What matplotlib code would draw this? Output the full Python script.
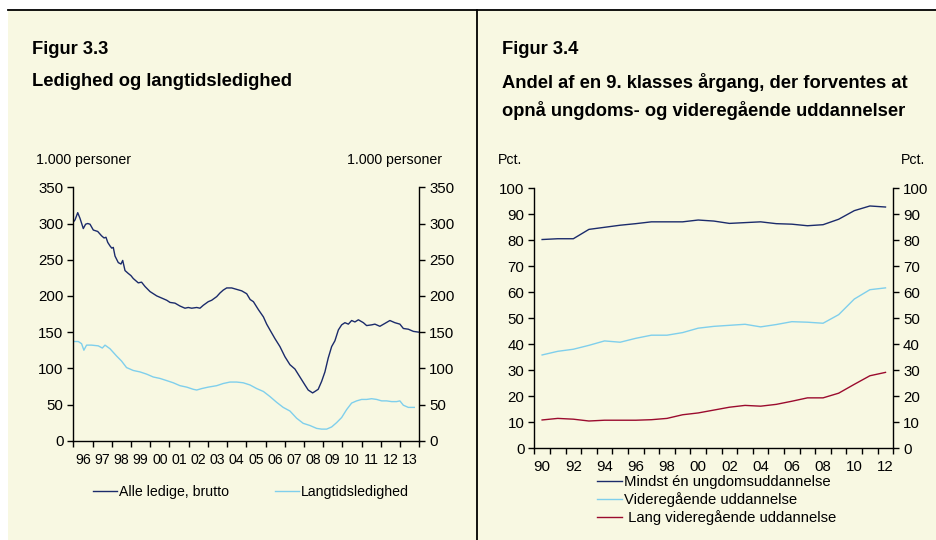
import numpy as np
import matplotlib
matplotlib.use("Agg")
import matplotlib.pyplot as plt
from matplotlib.patches import Rectangle
from matplotlib.lines import Line2D

plt.rcParams['font.family'] = ['Liberation Sans', 'DejaVu Sans']

# --- Figur 3.3 data (1.000 personer) ---
alle_t = [1996.00, 1996.09, 1996.23, 1996.35, 1996.52, 1996.64, 1996.75, 1996.87,
          1997.04, 1997.27, 1997.47, 1997.60, 1997.70, 1997.79, 1997.91, 1998.00,
          1998.08, 1998.17, 1998.34, 1998.48, 1998.57, 1998.69, 1998.86, 1999.00,
          1999.12, 1999.38, 1999.55, 1999.73, 1999.99, 2000.34, 2000.60, 2000.86,
          2001.03, 2001.29, 2001.55, 2001.81, 2001.98, 2002.16, 2002.42, 2002.59,
          2002.76, 2003.02, 2003.20, 2003.46, 2003.63, 2003.80, 2003.98, 2004.24,
          2004.50, 2004.76, 2005.02, 2005.20, 2005.37, 2005.63, 2005.89, 2006.06,
          2006.23, 2006.49, 2006.75, 2007.01, 2007.27, 2007.53, 2007.79, 2008.05,
          2008.22, 2008.45, 2008.57, 2008.74, 2008.92, 2009.09, 2009.26, 2009.44,
          2009.61, 2009.79, 2009.96, 2010.13, 2010.31, 2010.48, 2010.65, 2010.83,
          2011.09, 2011.26, 2011.52, 2011.69, 2011.95, 2012.21, 2012.47, 2012.73,
          2012.99, 2013.17, 2013.43, 2013.69, 2013.95]
alle = [302, 305, 315, 307, 293, 299, 300, 299,
        291, 289, 283, 280, 281, 274, 269, 266,
        267, 255, 246, 244, 249, 235, 231, 228,
        224, 218, 219, 213, 206, 200, 197, 194,
        191, 190, 186, 183, 184, 183, 184, 183,
        187, 192, 194, 199, 204, 208, 211, 211,
        209, 207, 203, 195, 192, 181, 171, 161,
        153, 141, 130, 116, 105, 99, 88, 77,
        70, 66, 68, 71, 82, 95, 114, 130,
        138, 153, 160, 163, 161, 166, 164, 167,
        163, 159, 160, 161, 158, 162, 166, 163,
        161, 155, 154, 151, 150]

lang_t = [1996.00, 1996.26, 1996.43, 1996.55, 1996.69, 1996.95, 1997.30, 1997.51,
          1997.65, 1997.91, 1998.25, 1998.51, 1998.77, 1999.12, 1999.47, 1999.81,
          2000.16, 2000.51, 2000.86, 2001.20, 2001.55, 2001.90, 2002.24, 2002.42,
          2002.68, 2003.02, 2003.46, 2003.80, 2004.15, 2004.50, 2004.84, 2005.19,
          2005.54, 2005.89, 2006.23, 2006.58, 2006.92, 2007.27, 2007.62, 2007.96,
          2008.31, 2008.66, 2008.92, 2009.18, 2009.44, 2009.70, 2009.96, 2010.22,
          2010.48, 2010.74, 2011.00, 2011.26, 2011.52, 2011.78, 2012.04, 2012.30,
          2012.56, 2012.82, 2012.99, 2013.17, 2013.43, 2013.74]
lang = [137, 137, 134, 125, 132, 132, 131, 128,
        132, 127, 117, 110, 101, 97, 95, 92,
        88, 86, 83, 80, 76, 74, 71, 70,
        72, 74, 76, 79, 81, 81, 80, 77,
        72, 68, 61, 53, 46, 41, 31, 24,
        21, 17, 16, 16, 19, 25, 32, 43,
        52, 55, 57, 57, 58, 57, 55, 55,
        54, 54, 55, 49, 46, 46]

yr_labels_l = ['96', '97', '98', '99', '00', '01', '02', '03', '04', '05',
               '06', '07', '08', '09', '10', '11', '12', '13']

# --- Figur 3.4 data (pct.) ---
years_r = list(range(1990, 2013))
mindst = [80.3, 80.6, 80.6, 84.2, 85.0, 85.8, 86.4, 87.1, 87.1, 87.1, 87.8, 87.4,
          86.5, 86.8, 87.1, 86.4, 86.2, 85.6, 86.0, 88.1, 91.4, 93.2, 92.8]
videre = [35.9, 37.3, 38.1, 39.6, 41.3, 40.8, 42.3, 43.5, 43.5, 44.5, 46.2, 46.9,
          47.3, 47.7, 46.7, 47.6, 48.7, 48.5, 48.1, 51.4, 57.4, 61.0, 61.7]
lang_vid = [10.9, 11.5, 11.2, 10.5, 10.8, 10.8, 10.8, 11.0, 11.5, 12.9, 13.6, 14.7,
            15.8, 16.5, 16.2, 16.9, 18.1, 19.4, 19.4, 21.2, 24.6, 27.9, 29.2]

navy = '#1b2b6b'
light = '#7fcfec'
red = '#9b0b2e'
cream = '#f8f8e2'

W, H = 936, 540
fig = plt.figure(figsize=(W / 100, H / 100), dpi=100, facecolor='white')


def fx(x):
    return x / W


def fy(y):
    return 1 - y / H


fig.patches.append(Rectangle((fx(8), 0), 1 - fx(8), fy(10), transform=fig.transFigure,
                             facecolor=cream, edgecolor='none', zorder=-5))
fig.lines.append(Line2D([fx(8), 1], [fy(10), fy(10)], transform=fig.transFigure,
                        color='black', lw=1.3))
fig.lines.append(Line2D([fx(477.5), fx(477.5)], [0, fy(10)], transform=fig.transFigure,
                        color='black', lw=1.3))

tfs = 13.2
fs = 10.2


def style_axes(ax, size):
    ax.set_facecolor('none')
    ax.spines['top'].set_visible(False)
    for s in ['left', 'right', 'bottom']:
        ax.spines[s].set_linewidth(1.0)
    ax.yaxis.set_ticks_position('both')
    ax.tick_params(axis='y', which='major', direction='out', length=4, width=1,
                   labelright=True, labelsize=size, pad=3)
    ax.tick_params(axis='x', which='major', direction='out', length=4, width=1,
                   labelbottom=False)
    ax.tick_params(axis='x', which='minor', length=0, labelsize=size, pad=8.5)


# ---------- Figur 3.3 ----------
ax1 = fig.add_axes([fx(73.3), fy(440.7), fx(419.3) - fx(73.3), fy(187.3) - fy(440.7)])
style_axes(ax1, fs)
ax1.tick_params(axis='y', labelsize=10.8)
ax1.plot(alle_t, alle, color=navy, lw=1.0)
ax1.plot(lang_t, lang, color=light, lw=1.0)
ax1.set_xlim(1996, 2014)
ax1.set_ylim(0, 350)
ax1.set_yticks(np.arange(0, 351, 50))
ax1.set_xticks(np.arange(1996, 2015))
ax1.set_xticks(np.arange(1996.5, 2014, 1), minor=True)
ax1.set_xticklabels(yr_labels_l, minor=True)

fig.text(fx(32), fy(50), 'Figur 3.3', fontsize=tfs, fontweight='bold', va='center')
fig.text(fx(32), fy(82), 'Ledighed og langtidsledighed', fontsize=tfs,
         fontweight='bold', va='center')
fig.text(fx(36), fy(160), '1.000 personer', fontsize=fs, va='center')
fig.text(fx(442), fy(160), '1.000 personer', fontsize=fs, va='center', ha='right')

handles1 = [Line2D([], [], color=navy, lw=1.0), Line2D([], [], color=light, lw=1.0)]
fig.legend(handles1, ['Alle ledige, brutto', 'Langtidsledighed'], loc='center',
           bbox_to_anchor=(fx(251), fy(492)), ncol=2, frameon=False, fontsize=fs,
           handlelength=1.7, handletextpad=0.15, columnspacing=3.2, borderpad=0)

# ---------- Figur 3.4 ----------
ax2 = fig.add_axes([fx(534.3), fy(448.3), fx(893.3) - fx(534.3), fy(188.3) - fy(448.3)])
style_axes(ax2, 10.8)
xr = np.arange(len(years_r))
l1, = ax2.plot(xr, mindst, color=navy, lw=1.0)
l2, = ax2.plot(xr, videre, color=light, lw=1.0)
l3, = ax2.plot(xr, lang_vid, color=red, lw=1.0)
ax2.set_xlim(-0.5, len(years_r) - 0.5)
ax2.set_ylim(0, 100)
ax2.set_yticks(np.arange(0, 101, 10))
ax2.set_xticks(np.arange(-0.5, len(years_r)))
ax2.set_xticks(xr[::2], minor=True)
ax2.set_xticklabels([str(y)[2:] for y in years_r[::2]], minor=True)

fig.text(fx(502), fy(50), 'Figur 3.4', fontsize=tfs, fontweight='bold', va='center')
fig.text(fx(502), fy(82), 'Andel af en 9. klasses årgang, der forventes at',
         fontsize=tfs, fontweight='bold', va='center')
fig.text(fx(502), fy(110), 'opnå ungdoms- og videregående uddannelser',
         fontsize=tfs, fontweight='bold', va='center')
fig.text(fx(498), fy(160), 'Pct.', fontsize=fs, va='center')
fig.text(fx(925), fy(160), 'Pct.', fontsize=fs, va='center', ha='right')

fig.legend([l1, l2, l3], ['Mindst én ungdomsuddannelse', 'Videregående uddannelse',
                          ' Lang videregående uddannelse'],
           loc='center left', bbox_to_anchor=(fx(597), fy(500)), frameon=False,
           fontsize=10.7, handlelength=1.7, handletextpad=0.15, labelspacing=0.2,
           borderpad=0, borderaxespad=0)

fig.savefig('out.png', dpi=100, facecolor=fig.get_facecolor())
